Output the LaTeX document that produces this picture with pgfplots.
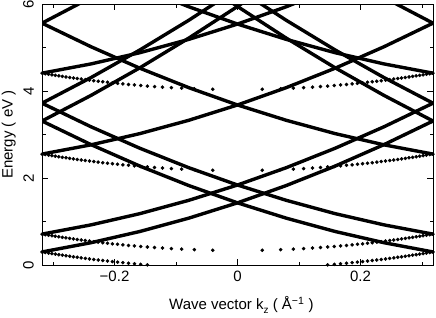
\documentclass[border=0pt]{standalone}
\usepackage{fontspec}
\setmainfont{Liberation Sans}
\usepackage{pgfplots}
\usepackage{pgfplotstable}
\pgfplotsset{compat=1.18}

% folded bands (m = -1, -2 and mirrored +1, +2) for four subbands
\pgfplotstableread{
k       s1m1  s1p1  s1m2  s1p2  s2m1  s2p1  s2m2  s2p2  s3m1  s3p1  s3m2  s3p2  s4m1  s4p1
-0.318  0.300 3.310 3.310 9.329 0.710 3.720 3.720 9.739 2.550 5.560 5.560 9.900 4.410 7.420
-0.2385 0.512 2.769 3.897 8.412 0.922 3.179 4.307 8.822 2.762 5.019 6.147 9.900 4.622 6.879
-0.159  0.770 2.275 4.532 7.542 1.180 2.685 4.942 7.952 3.020 4.525 6.782 9.900 4.880 6.385
-0.0795 1.076 1.828 5.214 6.719 1.486 2.238 5.624 7.129 3.326 4.078 7.464 9.900 5.186 5.938
0       1.429 1.429 5.943 5.943 1.839 1.839 6.353 6.353 3.679 3.679 8.193 8.193 5.539 5.539
0.0795  1.828 1.076 6.719 5.214 2.238 1.486 7.129 5.624 4.078 3.326 9.900 7.464 5.938 5.186
0.159   2.275 0.770 7.542 4.532 2.685 1.180 7.952 4.942 4.525 3.020 9.900 6.782 6.385 4.880
0.2385  2.769 0.512 8.412 3.897 3.179 0.922 8.822 4.307 5.019 2.762 9.900 6.147 6.879 4.622
0.318   3.310 0.300 9.329 3.310 3.720 0.710 9.739 3.720 5.560 2.550 9.900 5.560 7.420 4.410
}\bands

% unfolded (m = 0) bands, drawn as dots
\pgfplotstableread{
k       e1    e2    e3    e4
-0.3179 0.300 0.710 2.550 4.410
-0.3127 0.288 0.698 2.538 4.398
-0.3073 0.275 0.685 2.525 4.385
-0.3019 0.263 0.673 2.513 4.373
-0.2963 0.251 0.661 2.501 4.361
-0.2907 0.238 0.648 2.488 4.348
-0.2849 0.226 0.636 2.476 4.336
-0.2790 0.214 0.624 2.464 4.324
-0.2730 0.201 0.611 2.451 4.311
-0.2669 0.189 0.599 2.439 4.299
-0.2606 0.177 0.587 2.427 4.287
-0.2542 0.164 0.574 2.414 4.274
-0.2476 0.152 0.562 2.402 4.262
-0.2408 0.140 0.550 2.390 4.250
-0.2338 0.127 0.537 2.377 4.237
-0.2266 0.115 0.525 2.365 4.225
-0.2192 0.103 0.513 2.353 4.213
-0.2115 0.090 0.500 2.340 4.200
-0.2035 0.078 0.488 2.328 4.188
-0.1951 0.066 0.476 2.316 4.176
-0.1865 0.053 0.463 2.303 4.163
-0.1773 0.041 0.451 2.291 4.151
-0.1677 0.029 0.439 2.279 4.139
-0.1575 0.016 0.426 2.266 4.126
-0.1466 0.004 0.414 2.254 4.114
-0.1349 nan   0.402 2.242 4.102
-0.1220 nan   0.389 2.229 4.089
-0.1075 nan   0.377 2.217 4.077
-0.0908 nan   0.365 2.205 4.065
-0.0702 nan   0.352 2.192 4.052
-0.0402 nan   0.340 2.180 4.040
0.0402  nan   0.340 2.180 4.040
0.0702  nan   0.352 2.192 4.052
0.0908  nan   0.365 2.205 4.065
0.1075  nan   0.377 2.217 4.077
0.1220  nan   0.389 2.229 4.089
0.1349  nan   0.402 2.242 4.102
0.1466  0.004 0.414 2.254 4.114
0.1575  0.016 0.426 2.266 4.126
0.1677  0.029 0.439 2.279 4.139
0.1773  0.041 0.451 2.291 4.151
0.1865  0.053 0.463 2.303 4.163
0.1951  0.066 0.476 2.316 4.176
0.2035  0.078 0.488 2.328 4.188
0.2115  0.090 0.500 2.340 4.200
0.2192  0.103 0.513 2.353 4.213
0.2266  0.115 0.525 2.365 4.225
0.2338  0.127 0.537 2.377 4.237
0.2408  0.140 0.550 2.390 4.250
0.2476  0.152 0.562 2.402 4.262
0.2542  0.164 0.574 2.414 4.274
0.2606  0.177 0.587 2.427 4.287
0.2669  0.189 0.599 2.439 4.299
0.2730  0.201 0.611 2.451 4.311
0.2790  0.214 0.624 2.464 4.324
0.2849  0.226 0.636 2.476 4.336
0.2907  0.238 0.648 2.488 4.348
0.2963  0.251 0.661 2.501 4.361
0.3019  0.263 0.673 2.513 4.373
0.3073  0.275 0.685 2.525 4.385
0.3127  0.288 0.698 2.538 4.398
0.3179  0.300 0.710 2.550 4.410
}\dots

\begin{document}
\begin{tikzpicture}
\useasboundingbox (-42pt,-52pt) rectangle (394pt,265pt);
\begin{axis}[
  scale only axis,
  width=391pt, height=261pt,
  xmin=-0.318, xmax=0.318,
  ymin=0, ymax=6,
  font=\fontsize{15}{18}\selectfont,
  xtick={-0.2,0,0.2},
  xticklabels={−0.2,0,0.2},
  minor xtick={-0.3,-0.1,0.1,0.3},
  ytick={0,2,4,6},
  yticklabels={0,2,4,6},
  minor ytick={1,3,5},
  tick align=inside,
  major tick length=6pt,
  minor tick length=3.5pt,
  tick style={black, line width=0.6pt},
  axis line style={black, line width=0.8pt},
  xticklabel style={inner sep=0pt, anchor=north},
  xticklabel shift=6pt,
  yticklabel style={rotate=90, anchor=south, inner sep=0pt},
  yticklabel shift=8pt,
  xlabel={Wave vector k\raisebox{-0.45ex}{\fontsize{10}{12}\selectfont z} ( Å\textsuperscript{−1} )},
  ylabel={Energy ( eV )},
  xlabel style={at={(axis description cs:0.51,-0.153)}, anchor=center},
  ylabel style={at={(axis description cs:-0.085,0.5)}, anchor=center},
  every axis plot/.append style={black},
]
\foreach \c in {s1m1,s1p1,s1m2,s1p2,s2m1,s2p1,s2m2,s2p2,s3m1,s3p1,s3m2,s3p2,s4m1,s4p1}{
  \addplot[line width=3.4pt, line join=round] table[x=k, y=\c] {\bands};
}
\foreach \c in {e1,e2,e3,e4}{
  \addplot[only marks, mark=*, mark size=1.6pt] table[x=k, y=\c] {\dots};
}
\end{axis}
\end{tikzpicture}
\end{document}
